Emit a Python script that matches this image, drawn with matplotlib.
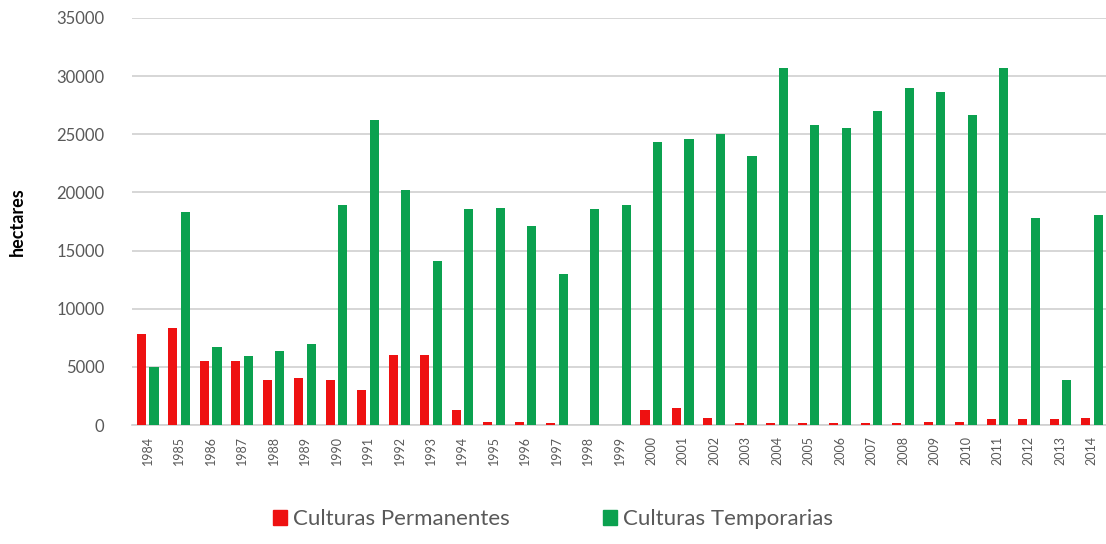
import numpy as np
import matplotlib
matplotlib.use("Agg")
import matplotlib.pyplot as plt
from matplotlib.patches import Patch

years = [str(y) for y in range(1984, 2015)]

permanentes = [7800, 8300, 5500, 5500, 3900, 4000, 3900, 3000, 6000, 6000,
               1300, 300, 300, 150, 0, 0, 1300, 1500, 600, 150,
               150, 150, 150, 150, 150, 300, 300, 500, 500, 500, 600]

temporarias = [5000, 18300, 6700, 5900, 6400, 7000, 18900, 26200, 20200, 14100,
               18600, 18700, 17100, 13000, 18600, 18900, 24300, 24600, 25000, 23100,
               30700, 25800, 25500, 27000, 29000, 28600, 26700, 30700, 17800, 3900, 18100]

red = '#EE1111'
green = '#0BA14F'
grey_txt = '#595959'

plt.rcParams['font.family'] = ['Lato', 'DejaVu Sans']

fig = plt.figure(figsize=(11.06, 5.44), dpi=100)
ax = fig.add_axes([132 / 1106, 119 / 544, 974 / 1106, 407 / 544])

x = np.arange(len(years))
w = 0.29
ax.bar(x - 0.2, permanentes, width=w, color=red, zorder=3)
ax.bar(x + 0.2, temporarias, width=w, color=green, zorder=3)

ax.set_xlim(-0.5, 30.45)
ax.set_ylim(0, 35000)
ax.set_yticks(range(0, 35001, 5000))
ax.tick_params(axis='y', length=0, labelsize=12, labelcolor=grey_txt, pad=20)
ax.set_xticks(x)
ax.set_xticklabels(years, rotation=90, fontsize=9, color=grey_txt)
ax.tick_params(axis='x', length=0, pad=8)

ax.grid(axis='y', color='#D0D0D0', lw=1.2, zorder=0)
for s in ['top', 'right', 'left']:
    ax.spines[s].set_visible(False)
ax.spines['bottom'].set_color('#D0D0D0')
ax.spines['bottom'].set_linewidth(1.2)

ax.set_ylabel('hectares', fontsize=13, fontweight='bold', labelpad=22)

handles = [Patch(color=red, label='Culturas Permanentes'),
           Patch(color=green, label='Culturas Temporarias')]
leg = fig.legend(handles=handles, loc='lower center', bbox_to_anchor=(0.5, -0.01),
                 ncol=2, frameon=False, fontsize=16, handlelength=0.65, handleheight=0.65,
                 handletextpad=0.25, columnspacing=4.2)
for t in leg.get_texts():
    t.set_color(grey_txt)

fig.savefig('out.png', dpi=100)
